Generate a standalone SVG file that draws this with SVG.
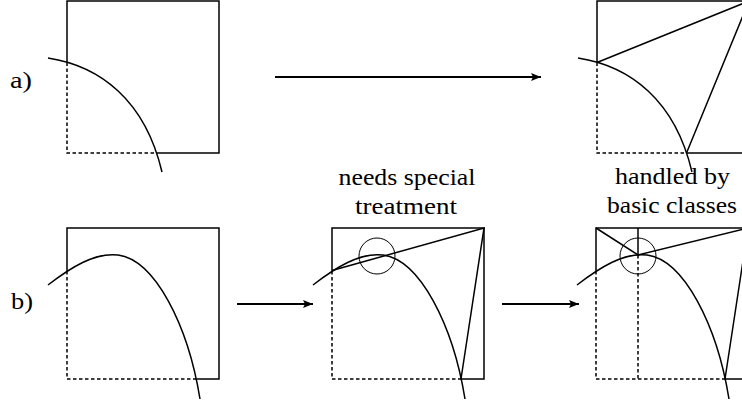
<svg xmlns="http://www.w3.org/2000/svg" width="742" height="402" viewBox="0 0 742 402">
<style>
.s{fill:none;stroke:#000;stroke-width:1.5}
.d{fill:none;stroke:#000;stroke-width:1.5;stroke-dasharray:3.5 2.5}
.c{fill:none;stroke:#000;stroke-width:1.5}
.o{fill:none;stroke:#000;stroke-width:1}
.a{fill:none;stroke:#000;stroke-width:2}
text{font-family:'Liberation Serif','DejaVu Serif','Times New Roman',Times,serif;font-size:23px;fill:#000}
</style>
<defs>
<marker id="ah" viewBox="0 0 10 8" refX="10" refY="4" markerWidth="10" markerHeight="8" markerUnits="userSpaceOnUse" orient="auto">
<path d="M0,0 L10,4 L0,8 L2,4 Z" fill="#000"/>
</marker>
<path id="arcA" d="M48,58 C100,66 145,100 162,172"/>
<path id="arcB" d="M48,285 C70,268 95,252 118,255 C155,260 188,325 200,399"/>
</defs>
<g id="label-a"><text x="10" y="88" textLength="22" lengthAdjust="spacingAndGlyphs">a)</text></g>
<g id="label-b"><text x="11" y="309" textLength="22" lengthAdjust="spacingAndGlyphs">b)</text></g>
<g id="panel-a-left">
<path class="s" d="M67,62.5 V1 H219 V153 H156.5"/>
<path class="d" d="M67,62.5 V153 H156.5"/>
<use href="#arcA" class="c"/>
</g>
<g id="panel-a-right">
<path class="s" d="M597,62.5 V1 H749 V153 H686.5"/>
<path class="d" d="M597,62.5 V153 H686.5"/>
<use href="#arcA" class="c" transform="translate(530,0)"/>
<path class="s" d="M597,62.5 L749,1 L686.5,153"/>
</g>
<g id="panel-b-left">
<path class="s" d="M67,271 V228 H219 V379 H197"/>
<path class="d" d="M67,271 V379 H197"/>
<use href="#arcB" class="c"/>
</g>
<g id="panel-b-mid">
<path class="s" d="M332,271 V228 H484 V379 H461"/>
<path class="d" d="M332,271 V379 H461"/>
<use href="#arcB" class="c" transform="translate(265,0)"/>
<path class="s" d="M332,270.5 L484,228 L461,379"/>
<circle class="o" cx="377" cy="256" r="18"/>
<text x="407" y="185" text-anchor="middle" textLength="137" lengthAdjust="spacingAndGlyphs">needs special</text>
<text x="406" y="214" text-anchor="middle" textLength="102" lengthAdjust="spacingAndGlyphs">treatment</text>
</g>
<g id="panel-b-right">
<path class="s" d="M596,271 V228 H748 V379 H725"/>
<path class="d" d="M596,271 V379 H725"/>
<path class="s" d="M638,228 V255"/>
<path class="d" d="M638,255 V379"/>
<use href="#arcB" class="c" transform="translate(529,0)"/>
<path class="s" d="M596,228 L638,255 L748,228 M725,379 L748,228"/>
<circle class="o" cx="638" cy="256" r="18"/>
<text x="672.5" y="184" text-anchor="middle" textLength="115" lengthAdjust="spacingAndGlyphs">handled by</text>
<text x="672" y="213" text-anchor="middle" textLength="130" lengthAdjust="spacingAndGlyphs">basic classes</text>
</g>
<g id="connectors">
<line class="a" x1="275" y1="77" x2="541" y2="77" marker-end="url(#ah)"/>
<line class="a" x1="237" y1="304" x2="313" y2="304" marker-end="url(#ah)"/>
<line class="a" x1="502" y1="304" x2="579" y2="304" marker-end="url(#ah)"/>
</g>
</svg>
